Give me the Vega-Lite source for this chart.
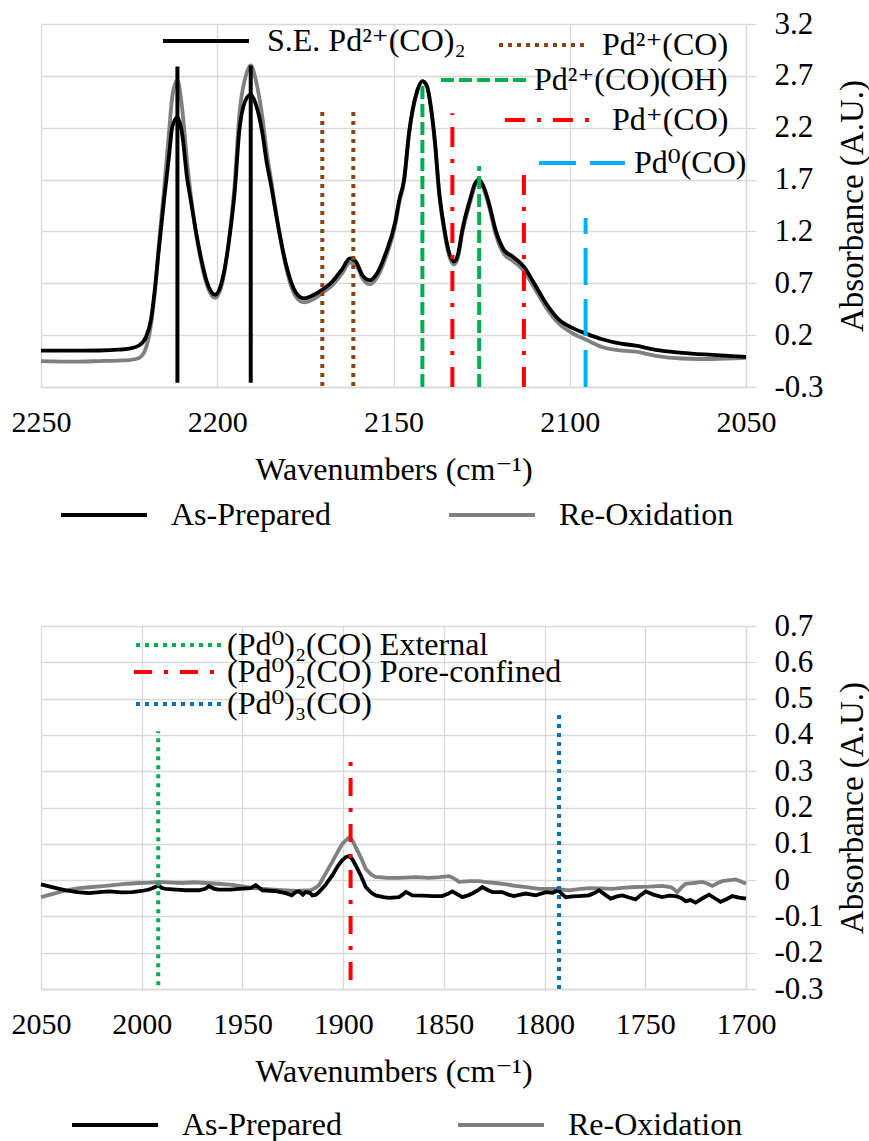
{
"$schema": "https://vega.github.io/schema/vega-lite/v6.json",
"padding": {"left": 11, "top": -4, "right": 0, "bottom": 0},
"background": "white",
"spacing": 69,
"config": {
  "font": "Liberation Serif, Times New Roman, DejaVu Serif, serif",
  "view": {"stroke": null},
  "axis": {"labelFont": "Liberation Serif, Times New Roman, DejaVu Serif, serif", "titleFont": "Liberation Serif, Times New Roman, DejaVu Serif, serif", "labelColor": "#000000", "titleColor": "#000000", "labelFontSize": 30, "titleFontSize": 32, "titleFontWeight": "normal", "gridColor": "#d9d9d9", "gridWidth": 1.3, "domainColor": "#d9d9d9", "domainWidth": 1.3, "tickColor": "#d9d9d9", "tickWidth": 1.3, "labelFlush": false, "labelOverlap": false},
  "legend": {"labelFont": "Liberation Serif, Times New Roman, DejaVu Serif, serif", "labelFontSize": 32, "labelColor": "#000000", "symbolType": "stroke", "symbolStrokeWidth": 4, "symbolSize": 7396, "labelLimit": 0, "padding": 0}
},
"datasets": {
  "topSpec": [
    {"s":"Re-Oxidation","wn":2250,"a":-0.05},{"s":"Re-Oxidation","wn":2240,"a":-0.055},{"s":"Re-Oxidation","wn":2233.5,"a":-0.05},{"s":"Re-Oxidation","wn":2228,"a":-0.045},{"s":"Re-Oxidation","wn":2225,"a":-0.04},{"s":"Re-Oxidation","wn":2222.2,"a":-0.02},{"s":"Re-Oxidation","wn":2220.2,"a":0.08},{"s":"Re-Oxidation","wn":2218.8,"a":0.3},{"s":"Re-Oxidation","wn":2217.7,"a":0.62},{"s":"Re-Oxidation","wn":2216.5,"a":1.1},{"s":"Re-Oxidation","wn":2215.1,"a":1.6},{"s":"Re-Oxidation","wn":2213.7,"a":2.15},{"s":"Re-Oxidation","wn":2212.75,"a":2.5},{"s":"Re-Oxidation","wn":2211.3,"a":2.66},{"s":"Re-Oxidation","wn":2210.0,"a":2.4},{"s":"Re-Oxidation","wn":2208.5,"a":1.85},{"s":"Re-Oxidation","wn":2207.5,"a":1.55},{"s":"Re-Oxidation","wn":2206.1,"a":1.2},{"s":"Re-Oxidation","wn":2204.7,"a":0.93},{"s":"Re-Oxidation","wn":2202.8,"a":0.67},{"s":"Re-Oxidation","wn":2200.6,"a":0.56},{"s":"Re-Oxidation","wn":2198.6,"a":0.7},{"s":"Re-Oxidation","wn":2196.5,"a":1.17},{"s":"Re-Oxidation","wn":2195.0,"a":1.68},{"s":"Re-Oxidation","wn":2193.8,"a":2.3},{"s":"Re-Oxidation","wn":2191.9,"a":2.7},{"s":"Re-Oxidation","wn":2190.5,"a":2.8},{"s":"Re-Oxidation","wn":2189.0,"a":2.65},{"s":"Re-Oxidation","wn":2187.2,"a":2.3},{"s":"Re-Oxidation","wn":2185.9,"a":1.95},{"s":"Re-Oxidation","wn":2184.75,"a":1.7},{"s":"Re-Oxidation","wn":2183.6,"a":1.45},{"s":"Re-Oxidation","wn":2182.5,"a":1.21},{"s":"Re-Oxidation","wn":2180.1,"a":0.8},{"s":"Re-Oxidation","wn":2177.7,"a":0.57},{"s":"Re-Oxidation","wn":2175.4,"a":0.515},{"s":"Re-Oxidation","wn":2172.55,"a":0.55},{"s":"Re-Oxidation","wn":2169.7,"a":0.62},{"s":"Re-Oxidation","wn":2167.4,"a":0.68},{"s":"Re-Oxidation","wn":2164.5,"a":0.8},{"s":"Re-Oxidation","wn":2162.4,"a":0.9},{"s":"Re-Oxidation","wn":2160.7,"a":0.88},{"s":"Re-Oxidation","wn":2158.85,"a":0.75},{"s":"Re-Oxidation","wn":2156.75,"a":0.69},{"s":"Re-Oxidation","wn":2154.6,"a":0.76},{"s":"Re-Oxidation","wn":2152.2,"a":0.95},{"s":"Re-Oxidation","wn":2149.4,"a":1.28},{"s":"Re-Oxidation","wn":2148.4,"a":1.47},{"s":"Re-Oxidation","wn":2147.0,"a":1.68},{"s":"Re-Oxidation","wn":2145.6,"a":2.13},{"s":"Re-Oxidation","wn":2143.25,"a":2.55},{"s":"Re-Oxidation","wn":2141.8,"a":2.65},{"s":"Re-Oxidation","wn":2140.5,"a":2.6},{"s":"Re-Oxidation","wn":2139.4,"a":2.4},{"s":"Re-Oxidation","wn":2138.2,"a":2.03},{"s":"Re-Oxidation","wn":2137.1,"a":1.58},{"s":"Re-Oxidation","wn":2135.7,"a":1.22},{"s":"Re-Oxidation","wn":2134.25,"a":0.97},{"s":"Re-Oxidation","wn":2132.8,"a":0.88},{"s":"Re-Oxidation","wn":2131.7,"a":0.95},{"s":"Re-Oxidation","wn":2130.5,"a":1.18},{"s":"Re-Oxidation","wn":2128.1,"a":1.5},{"s":"Re-Oxidation","wn":2126.9,"a":1.64},{"s":"Re-Oxidation","wn":2125.7,"a":1.68},{"s":"Re-Oxidation","wn":2124.3,"a":1.6},{"s":"Re-Oxidation","wn":2122.9,"a":1.44},{"s":"Re-Oxidation","wn":2121.0,"a":1.17},{"s":"Re-Oxidation","wn":2118.65,"a":0.98},{"s":"Re-Oxidation","wn":2116.3,"a":0.92},{"s":"Re-Oxidation","wn":2113.0,"a":0.82},{"s":"Re-Oxidation","wn":2110.1,"a":0.66},{"s":"Re-Oxidation","wn":2106.8,"a":0.47},{"s":"Re-Oxidation","wn":2103.05,"a":0.31},{"s":"Re-Oxidation","wn":2099.3,"a":0.22},{"s":"Re-Oxidation","wn":2095.0,"a":0.15},{"s":"Re-Oxidation","wn":2090.8,"a":0.085},{"s":"Re-Oxidation","wn":2085.1,"a":0.05},{"s":"Re-Oxidation","wn":2081.3,"a":0.04},{"s":"Re-Oxidation","wn":2075.6,"a":0.0},{"s":"Re-Oxidation","wn":2068.1,"a":-0.025},{"s":"Re-Oxidation","wn":2059.6,"a":-0.03},{"s":"Re-Oxidation","wn":2050,"a":-0.02},
    {"s":"As-Prepared","wn":2250,"a":0.05},{"s":"As-Prepared","wn":2240,"a":0.05},{"s":"As-Prepared","wn":2233.5,"a":0.052},{"s":"As-Prepared","wn":2228,"a":0.06},{"s":"As-Prepared","wn":2225,"a":0.07},{"s":"As-Prepared","wn":2222.2,"a":0.1},{"s":"As-Prepared","wn":2220.2,"a":0.185},{"s":"As-Prepared","wn":2218.8,"a":0.35},{"s":"As-Prepared","wn":2217.7,"a":0.64},{"s":"As-Prepared","wn":2216.5,"a":1.05},{"s":"As-Prepared","wn":2215.1,"a":1.5},{"s":"As-Prepared","wn":2213.7,"a":1.92},{"s":"As-Prepared","wn":2212.75,"a":2.21},{"s":"As-Prepared","wn":2211.3,"a":2.3},{"s":"As-Prepared","wn":2210.0,"a":2.15},{"s":"As-Prepared","wn":2208.5,"a":1.7},{"s":"As-Prepared","wn":2207.5,"a":1.5},{"s":"As-Prepared","wn":2206.1,"a":1.21},{"s":"As-Prepared","wn":2204.7,"a":0.96},{"s":"As-Prepared","wn":2202.8,"a":0.7},{"s":"As-Prepared","wn":2200.6,"a":0.59},{"s":"As-Prepared","wn":2198.6,"a":0.73},{"s":"As-Prepared","wn":2196.5,"a":1.15},{"s":"As-Prepared","wn":2195.0,"a":1.6},{"s":"As-Prepared","wn":2193.8,"a":2.15},{"s":"As-Prepared","wn":2191.9,"a":2.47},{"s":"As-Prepared","wn":2190.5,"a":2.52},{"s":"As-Prepared","wn":2189.0,"a":2.42},{"s":"As-Prepared","wn":2187.2,"a":2.15},{"s":"As-Prepared","wn":2185.9,"a":1.85},{"s":"As-Prepared","wn":2184.75,"a":1.65},{"s":"As-Prepared","wn":2183.6,"a":1.42},{"s":"As-Prepared","wn":2182.5,"a":1.21},{"s":"As-Prepared","wn":2180.1,"a":0.83},{"s":"As-Prepared","wn":2177.7,"a":0.61},{"s":"As-Prepared","wn":2175.4,"a":0.555},{"s":"As-Prepared","wn":2172.55,"a":0.59},{"s":"As-Prepared","wn":2169.7,"a":0.65},{"s":"As-Prepared","wn":2167.4,"a":0.715},{"s":"As-Prepared","wn":2164.5,"a":0.84},{"s":"As-Prepared","wn":2162.4,"a":0.94},{"s":"As-Prepared","wn":2160.7,"a":0.91},{"s":"As-Prepared","wn":2158.85,"a":0.78},{"s":"As-Prepared","wn":2156.75,"a":0.73},{"s":"As-Prepared","wn":2154.6,"a":0.8},{"s":"As-Prepared","wn":2152.2,"a":0.99},{"s":"As-Prepared","wn":2149.4,"a":1.31},{"s":"As-Prepared","wn":2148.4,"a":1.5},{"s":"As-Prepared","wn":2147.0,"a":1.7},{"s":"As-Prepared","wn":2145.6,"a":2.15},{"s":"As-Prepared","wn":2143.25,"a":2.56},{"s":"As-Prepared","wn":2141.8,"a":2.65},{"s":"As-Prepared","wn":2140.5,"a":2.6},{"s":"As-Prepared","wn":2139.4,"a":2.4},{"s":"As-Prepared","wn":2138.2,"a":2.05},{"s":"As-Prepared","wn":2137.1,"a":1.6},{"s":"As-Prepared","wn":2135.7,"a":1.25},{"s":"As-Prepared","wn":2134.25,"a":1.0},{"s":"As-Prepared","wn":2132.8,"a":0.91},{"s":"As-Prepared","wn":2131.7,"a":0.98},{"s":"As-Prepared","wn":2130.5,"a":1.21},{"s":"As-Prepared","wn":2128.1,"a":1.53},{"s":"As-Prepared","wn":2126.9,"a":1.66},{"s":"As-Prepared","wn":2125.7,"a":1.7},{"s":"As-Prepared","wn":2124.3,"a":1.62},{"s":"As-Prepared","wn":2122.9,"a":1.47},{"s":"As-Prepared","wn":2121.0,"a":1.21},{"s":"As-Prepared","wn":2118.65,"a":1.02},{"s":"As-Prepared","wn":2116.3,"a":0.96},{"s":"As-Prepared","wn":2113.0,"a":0.86},{"s":"As-Prepared","wn":2110.1,"a":0.7},{"s":"As-Prepared","wn":2106.8,"a":0.51},{"s":"As-Prepared","wn":2103.05,"a":0.35},{"s":"As-Prepared","wn":2099.3,"a":0.27},{"s":"As-Prepared","wn":2095.0,"a":0.21},{"s":"As-Prepared","wn":2090.8,"a":0.16},{"s":"As-Prepared","wn":2085.1,"a":0.115},{"s":"As-Prepared","wn":2081.3,"a":0.1},{"s":"As-Prepared","wn":2075.6,"a":0.057},{"s":"As-Prepared","wn":2068.1,"a":0.03},{"s":"As-Prepared","wn":2059.6,"a":0.01},{"s":"As-Prepared","wn":2050,"a":-0.01}
  ],
  "topRefs": [
    {"k":"se","lab":"S.E. Pd²⁺(CO)₂","wn":2211.3,"y0":-0.26,"y1":2.79},
    {"k":"se","lab":"S.E. Pd²⁺(CO)₂","wn":2190.5,"y0":-0.26,"y1":2.8},
    {"k":"p2","lab":"Pd²⁺(CO)","wn":2170.2,"y0":-0.29,"y1":2.355},
    {"k":"p2","lab":"Pd²⁺(CO)","wn":2161.4,"y0":-0.29,"y1":2.355},
    {"k":"oh","lab":"Pd²⁺(CO)(OH)","wn":2141.8,"y0":-0.3,"y1":2.63},
    {"k":"oh","lab":"Pd²⁺(CO)(OH)","wn":2125.7,"y0":-0.3,"y1":1.83},
    {"k":"p1","lab":"Pd⁺(CO)","wn":2133.3,"y0":-0.3,"y1":2.34},
    {"k":"p1","lab":"Pd⁺(CO)","wn":2113.0,"y0":-0.3,"y1":1.81},
    {"k":"p0","lab":"Pd⁰(CO)","wn":2095.5,"y0":-0.3,"y1":1.33}
  ],
  "botSpec": [
    {"s":"Re-Oxidation","wn":2050,"a":-0.047},{"s":"Re-Oxidation","wn":2044,"a":-0.038},{"s":"Re-Oxidation","wn":2037.7,"a":-0.028},{"s":"Re-Oxidation","wn":2031,"a":-0.022},{"s":"Re-Oxidation","wn":2024.5,"a":-0.019},{"s":"Re-Oxidation","wn":2018,"a":-0.016},{"s":"Re-Oxidation","wn":2012.9,"a":-0.013},{"s":"Re-Oxidation","wn":2007,"a":-0.01},{"s":"Re-Oxidation","wn":2001.35,"a":-0.008},{"s":"Re-Oxidation","wn":1996,"a":-0.007},{"s":"Re-Oxidation","wn":1991.4,"a":-0.005},{"s":"Re-Oxidation","wn":1985,"a":-0.007},{"s":"Re-Oxidation","wn":1979.85,"a":-0.008},{"s":"Re-Oxidation","wn":1974,"a":-0.006},{"s":"Re-Oxidation","wn":1968.2,"a":-0.008},{"s":"Re-Oxidation","wn":1962,"a":-0.01},{"s":"Re-Oxidation","wn":1955,"a":-0.013},{"s":"Re-Oxidation","wn":1950,"a":-0.017},{"s":"Re-Oxidation","wn":1945.1,"a":-0.022},{"s":"Re-Oxidation","wn":1938,"a":-0.025},{"s":"Re-Oxidation","wn":1930.2,"a":-0.028},{"s":"Re-Oxidation","wn":1923,"a":-0.03},{"s":"Re-Oxidation","wn":1916.1,"a":-0.028},{"s":"Re-Oxidation","wn":1914,"a":-0.022},{"s":"Re-Oxidation","wn":1912,"a":-0.014},{"s":"Re-Oxidation","wn":1909,"a":0.015},{"s":"Re-Oxidation","wn":1905.4,"a":0.05},{"s":"Re-Oxidation","wn":1902.5,"a":0.08},{"s":"Re-Oxidation","wn":1900.4,"a":0.1},{"s":"Re-Oxidation","wn":1897.4,"a":0.116},{"s":"Re-Oxidation","wn":1895.5,"a":0.11},{"s":"Re-Oxidation","wn":1893.8,"a":0.091},{"s":"Re-Oxidation","wn":1891,"a":0.06},{"s":"Re-Oxidation","wn":1888.8,"a":0.031},{"s":"Re-Oxidation","wn":1886,"a":0.015},{"s":"Re-Oxidation","wn":1883.8,"a":0.009},{"s":"Re-Oxidation","wn":1878,"a":0.006},{"s":"Re-Oxidation","wn":1872.3,"a":0.006},{"s":"Re-Oxidation","wn":1864,"a":0.008},{"s":"Re-Oxidation","wn":1857.4,"a":0.006},{"s":"Re-Oxidation","wn":1852,"a":0.008},{"s":"Re-Oxidation","wn":1847.45,"a":0.011},{"s":"Re-Oxidation","wn":1845,"a":0.005},{"s":"Re-Oxidation","wn":1842.5,"a":-0.005},{"s":"Re-Oxidation","wn":1837,"a":-0.003},{"s":"Re-Oxidation","wn":1832.55,"a":-0.003},{"s":"Re-Oxidation","wn":1828,"a":-0.006},{"s":"Re-Oxidation","wn":1824.3,"a":-0.008},{"s":"Re-Oxidation","wn":1819,"a":-0.012},{"s":"Re-Oxidation","wn":1814.4,"a":-0.016},{"s":"Re-Oxidation","wn":1808,"a":-0.02},{"s":"Re-Oxidation","wn":1802.8,"a":-0.024},{"s":"Re-Oxidation","wn":1798,"a":-0.024},{"s":"Re-Oxidation","wn":1793.7,"a":-0.024},{"s":"Re-Oxidation","wn":1790,"a":-0.027},{"s":"Re-Oxidation","wn":1787.9,"a":-0.028},{"s":"Re-Oxidation","wn":1783,"a":-0.025},{"s":"Re-Oxidation","wn":1777.95,"a":-0.022},{"s":"Re-Oxidation","wn":1772,"a":-0.023},{"s":"Re-Oxidation","wn":1766.4,"a":-0.024},{"s":"Re-Oxidation","wn":1760,"a":-0.021},{"s":"Re-Oxidation","wn":1754.8,"a":-0.019},{"s":"Re-Oxidation","wn":1748,"a":-0.018},{"s":"Re-Oxidation","wn":1741.6,"a":-0.016},{"s":"Re-Oxidation","wn":1737,"a":-0.02},{"s":"Re-Oxidation","wn":1734.1,"a":-0.033},{"s":"Re-Oxidation","wn":1732,"a":-0.02},{"s":"Re-Oxidation","wn":1730,"a":-0.01},{"s":"Re-Oxidation","wn":1726,"a":-0.008},{"s":"Re-Oxidation","wn":1721.7,"a":-0.005},{"s":"Re-Oxidation","wn":1719,"a":-0.01},{"s":"Re-Oxidation","wn":1716.7,"a":-0.016},{"s":"Re-Oxidation","wn":1714,"a":-0.008},{"s":"Re-Oxidation","wn":1711.8,"a":-0.003},{"s":"Re-Oxidation","wn":1708,"a":0.0},{"s":"Re-Oxidation","wn":1705.1,"a":0.002},{"s":"Re-Oxidation","wn":1702.5,"a":-0.004},{"s":"Re-Oxidation","wn":1700,"a":-0.01},
    {"s":"As-Prepared","wn":2050,"a":-0.012},{"s":"As-Prepared","wn":2044,"a":-0.02},{"s":"As-Prepared","wn":2037.7,"a":-0.028},{"s":"As-Prepared","wn":2032,"a":-0.033},{"s":"As-Prepared","wn":2026.2,"a":-0.036},{"s":"As-Prepared","wn":2021,"a":-0.033},{"s":"As-Prepared","wn":2016.2,"a":-0.031},{"s":"As-Prepared","wn":2010,"a":-0.034},{"s":"As-Prepared","wn":2004.7,"a":-0.033},{"s":"As-Prepared","wn":2000,"a":-0.03},{"s":"As-Prepared","wn":1996.4,"a":-0.026},{"s":"As-Prepared","wn":1993.5,"a":-0.02},{"s":"As-Prepared","wn":1991.8,"a":-0.014},{"s":"As-Prepared","wn":1990,"a":-0.022},{"s":"As-Prepared","wn":1988.1,"a":-0.024},{"s":"As-Prepared","wn":1983,"a":-0.026},{"s":"As-Prepared","wn":1978.2,"a":-0.028},{"s":"As-Prepared","wn":1971.6,"a":-0.028},{"s":"As-Prepared","wn":1968.5,"a":-0.024},{"s":"As-Prepared","wn":1966.6,"a":-0.017},{"s":"As-Prepared","wn":1964,"a":-0.024},{"s":"As-Prepared","wn":1961.6,"a":-0.026},{"s":"As-Prepared","wn":1956,"a":-0.026},{"s":"As-Prepared","wn":1951.7,"a":-0.024},{"s":"As-Prepared","wn":1946,"a":-0.022},{"s":"As-Prepared","wn":1943.4,"a":-0.014},{"s":"As-Prepared","wn":1941.5,"a":-0.022},{"s":"As-Prepared","wn":1940.1,"a":-0.028},{"s":"As-Prepared","wn":1934,"a":-0.03},{"s":"As-Prepared","wn":1928.5,"a":-0.036},{"s":"As-Prepared","wn":1925.5,"a":-0.042},{"s":"As-Prepared","wn":1923.5,"a":-0.033},{"s":"As-Prepared","wn":1921.9,"a":-0.031},{"s":"As-Prepared","wn":1920,"a":-0.04},{"s":"As-Prepared","wn":1918.6,"a":-0.033},{"s":"As-Prepared","wn":1916.5,"a":-0.035},{"s":"As-Prepared","wn":1915.3,"a":-0.042},{"s":"As-Prepared","wn":1913.5,"a":-0.04},{"s":"As-Prepared","wn":1912,"a":-0.033},{"s":"As-Prepared","wn":1909,"a":-0.015},{"s":"As-Prepared","wn":1905.4,"a":0.013},{"s":"As-Prepared","wn":1902.5,"a":0.04},{"s":"As-Prepared","wn":1900.4,"a":0.055},{"s":"As-Prepared","wn":1898.5,"a":0.064},{"s":"As-Prepared","wn":1897.1,"a":0.066},{"s":"As-Prepared","wn":1895.5,"a":0.058},{"s":"As-Prepared","wn":1893.8,"a":0.041},{"s":"As-Prepared","wn":1891,"a":0.01},{"s":"As-Prepared","wn":1888.8,"a":-0.019},{"s":"As-Prepared","wn":1886,"a":-0.035},{"s":"As-Prepared","wn":1883.8,"a":-0.042},{"s":"As-Prepared","wn":1880,"a":-0.047},{"s":"As-Prepared","wn":1877.2,"a":-0.049},{"s":"As-Prepared","wn":1872.3,"a":-0.047},{"s":"As-Prepared","wn":1870.5,"a":-0.04},{"s":"As-Prepared","wn":1868.9,"a":-0.033},{"s":"As-Prepared","wn":1867,"a":-0.038},{"s":"As-Prepared","wn":1865.7,"a":-0.042},{"s":"As-Prepared","wn":1860,"a":-0.043},{"s":"As-Prepared","wn":1855.7,"a":-0.044},{"s":"As-Prepared","wn":1850.8,"a":-0.044},{"s":"As-Prepared","wn":1848,"a":-0.038},{"s":"As-Prepared","wn":1845.8,"a":-0.031},{"s":"As-Prepared","wn":1843,"a":-0.04},{"s":"As-Prepared","wn":1840.8,"a":-0.047},{"s":"As-Prepared","wn":1838,"a":-0.042},{"s":"As-Prepared","wn":1835.9,"a":-0.037},{"s":"As-Prepared","wn":1833,"a":-0.028},{"s":"As-Prepared","wn":1830.9,"a":-0.019},{"s":"As-Prepared","wn":1828,"a":-0.028},{"s":"As-Prepared","wn":1825.95,"a":-0.033},{"s":"As-Prepared","wn":1821,"a":-0.033},{"s":"As-Prepared","wn":1818,"a":-0.04},{"s":"As-Prepared","wn":1815.2,"a":-0.044},{"s":"As-Prepared","wn":1812,"a":-0.04},{"s":"As-Prepared","wn":1809.4,"a":-0.037},{"s":"As-Prepared","wn":1804.4,"a":-0.042},{"s":"As-Prepared","wn":1799.45,"a":-0.033},{"s":"As-Prepared","wn":1796,"a":-0.035},{"s":"As-Prepared","wn":1793.2,"a":-0.028},{"s":"As-Prepared","wn":1791,"a":-0.04},{"s":"As-Prepared","wn":1789.5,"a":-0.047},{"s":"As-Prepared","wn":1786,"a":-0.045},{"s":"As-Prepared","wn":1782.9,"a":-0.044},{"s":"As-Prepared","wn":1777.95,"a":-0.042},{"s":"As-Prepared","wn":1775,"a":-0.035},{"s":"As-Prepared","wn":1773,"a":-0.028},{"s":"As-Prepared","wn":1770,"a":-0.04},{"s":"As-Prepared","wn":1767.2,"a":-0.051},{"s":"As-Prepared","wn":1764,"a":-0.045},{"s":"As-Prepared","wn":1761.4,"a":-0.042},{"s":"As-Prepared","wn":1758,"a":-0.048},{"s":"As-Prepared","wn":1754.8,"a":-0.053},{"s":"As-Prepared","wn":1752,"a":-0.04},{"s":"As-Prepared","wn":1749.8,"a":-0.031},{"s":"As-Prepared","wn":1746,"a":-0.04},{"s":"As-Prepared","wn":1741.6,"a":-0.047},{"s":"As-Prepared","wn":1738,"a":-0.043},{"s":"As-Prepared","wn":1734.9,"a":-0.044},{"s":"As-Prepared","wn":1732,"a":-0.05},{"s":"As-Prepared","wn":1730,"a":-0.058},{"s":"As-Prepared","wn":1727.5,"a":-0.055},{"s":"As-Prepared","wn":1725,"a":-0.062},{"s":"As-Prepared","wn":1721.5,"a":-0.05},{"s":"As-Prepared","wn":1718.4,"a":-0.04},{"s":"As-Prepared","wn":1715.5,"a":-0.05},{"s":"As-Prepared","wn":1712.6,"a":-0.06},{"s":"As-Prepared","wn":1709.5,"a":-0.052},{"s":"As-Prepared","wn":1706.8,"a":-0.044},{"s":"As-Prepared","wn":1703.5,"a":-0.048},{"s":"As-Prepared","wn":1700,"a":-0.051}
  ],
  "botRefs": [
    {"k":"ext","lab":"(Pd⁰)₂(CO) External","wn":1991.8,"y0":-0.29,"y1":0.41},
    {"k":"pore","lab":"(Pd⁰)₂(CO) Pore-confined","wn":1896.3,"y0":-0.275,"y1":0.34},
    {"k":"tri","lab":"(Pd⁰)₃(CO)","wn":1792.8,"y0":-0.3,"y1":0.468}
  ]
},
"vconcat": [
  {
    "width": 705, "height": 363,
    "resolve": {"scale": {"color": "independent", "strokeDash": "independent"}},
    "layer": [
      {
        "data": {"name": "topSpec"},
        "mark": {"type": "line", "strokeWidth": 3.8, "interpolate": "monotone"},
        "encoding": {
          "x": {"field": "wn", "type": "quantitative", "scale": {"domain": [2050, 2250], "reverse": true, "nice": false, "zero": false}, "axis": {"values": [2250, 2200, 2150, 2100, 2050], "tickCount": 30, "format": "d", "title": "Wavenumbers (cm⁻¹)", "ticks": false, "tickSize": 0, "labelPadding": 20, "titlePadding": 17, "grid": true, "labelFlush": false}},
          "y": {"field": "a", "type": "quantitative", "scale": {"domain": [-0.3, 3.2], "nice": false, "zero": false}, "axis": {"orient": "right", "values": [-0.3, 0.2, 0.7, 1.2, 1.7, 2.2, 2.7, 3.2], "tickCount": 30, "labelExpr": "replace(format(datum.value, '.1f'), '−', '-')", "labelFontSize": 31, "labelOverlap": false, "title": "Absorbance (A.U.)", "titleFontSize": 33, "tickSize": 10, "labelPadding": 18, "titleAngle": 270, "titleBaseline": "top", "titlePadding": 13, "grid": true}},
          "color": {"field": "s", "type": "nominal", "scale": {"domain": ["As-Prepared", "Re-Oxidation"], "range": ["#000000", "#808080"]}, "legend": {"title": null, "orient": "none", "legendX": 18, "legendY": 446, "direction": "horizontal", "columnPadding": 110, "labelOffset": 22}}
        }
      },
      {
        "data": {"name": "topRefs"}, "transform": [{"filter": "datum.k == 'se'"}],
        "mark": {"type": "rule", "strokeWidth": 4},
        "encoding": {
          "x": {"field": "wn", "type": "quantitative", "scale": {"domain": [2050, 2250], "reverse": true, "nice": false, "zero": false}},
          "y": {"field": "y0", "type": "quantitative", "scale": {"domain": [-0.3, 3.2], "nice": false, "zero": false}},
          "y2": {"field": "y1"},
          "color": {"field": "lab", "type": "nominal", "scale": {"range": ["#000000"]}, "legend": {"title": null, "orient": "none", "legendX": 120, "legendY": -28, "labelOffset": 16}},
          "strokeDash": {"field": "lab", "type": "nominal", "scale": {"range": [[1, 0]]}, "legend": {"title": null, "orient": "none", "legendX": 120, "legendY": -28, "labelOffset": 16}}
        }
      },
      {
        "data": {"name": "topRefs"}, "transform": [{"filter": "datum.k == 'p2'"}],
        "mark": {"type": "rule", "strokeWidth": 4},
        "encoding": {
          "x": {"field": "wn", "type": "quantitative", "scale": {"domain": [2050, 2250], "reverse": true, "nice": false, "zero": false}},
          "y": {"field": "y0", "type": "quantitative", "scale": {"domain": [-0.3, 3.2], "nice": false, "zero": false}},
          "y2": {"field": "y1"},
          "color": {"field": "lab", "type": "nominal", "scale": {"range": ["#8B4513"]}, "legend": {"title": null, "orient": "none", "legendX": 456, "legendY": -24, "labelOffset": 15}},
          "strokeDash": {"field": "lab", "type": "nominal", "scale": {"range": [[4, 5]]}, "legend": {"title": null, "orient": "none", "legendX": 456, "legendY": -24, "labelOffset": 15}}
        }
      },
      {
        "data": {"name": "topRefs"}, "transform": [{"filter": "datum.k == 'oh'"}],
        "mark": {"type": "rule", "strokeWidth": 4},
        "encoding": {
          "x": {"field": "wn", "type": "quantitative", "scale": {"domain": [2050, 2250], "reverse": true, "nice": false, "zero": false}},
          "y": {"field": "y0", "type": "quantitative", "scale": {"domain": [-0.3, 3.2], "nice": false, "zero": false}},
          "y2": {"field": "y1"},
          "color": {"field": "lab", "type": "nominal", "scale": {"range": ["#00B050"]}, "legend": {"title": null, "orient": "none", "legendX": 398, "legendY": 11, "labelOffset": 5}},
          "strokeDash": {"field": "lab", "type": "nominal", "scale": {"range": [[13, 5]]}, "legend": {"title": null, "orient": "none", "legendX": 398, "legendY": 11, "labelOffset": 5}}
        }
      },
      {
        "data": {"name": "topRefs"}, "transform": [{"filter": "datum.k == 'p1'"}],
        "mark": {"type": "rule", "strokeWidth": 4},
        "encoding": {
          "x": {"field": "wn", "type": "quantitative", "scale": {"domain": [2050, 2250], "reverse": true, "nice": false, "zero": false}},
          "y": {"field": "y0", "type": "quantitative", "scale": {"domain": [-0.3, 3.2], "nice": false, "zero": false}},
          "y2": {"field": "y1"},
          "color": {"field": "lab", "type": "nominal", "scale": {"range": ["#FF0000"]}, "legend": {"title": null, "orient": "none", "legendX": 462, "legendY": 51, "labelOffset": 19}},
          "strokeDash": {"field": "lab", "type": "nominal", "scale": {"range": [[20, 12, 4, 12]]}, "legend": {"title": null, "orient": "none", "legendX": 462, "legendY": 51, "labelOffset": 19}}
        }
      },
      {
        "data": {"name": "topRefs"}, "transform": [{"filter": "datum.k == 'p0'"}],
        "mark": {"type": "rule", "strokeWidth": 4},
        "encoding": {
          "x": {"field": "wn", "type": "quantitative", "scale": {"domain": [2050, 2250], "reverse": true, "nice": false, "zero": false}},
          "y": {"field": "y0", "type": "quantitative", "scale": {"domain": [-0.3, 3.2], "nice": false, "zero": false}},
          "y2": {"field": "y1"},
          "color": {"field": "lab", "type": "nominal", "scale": {"range": ["#00B0F0"]}, "legend": {"title": null, "orient": "none", "legendX": 496, "legendY": 94, "labelOffset": 7}},
          "strokeDash": {"field": "lab", "type": "nominal", "scale": {"range": [[37, 14]]}, "legend": {"title": null, "orient": "none", "legendX": 496, "legendY": 94, "labelOffset": 7}}
        }
      }
    ]
  },
  {
    "width": 705, "height": 363,
    "resolve": {"scale": {"color": "independent", "strokeDash": "independent"}},
    "layer": [
      {
        "data": {"name": "botSpec"},
        "mark": {"type": "line", "strokeWidth": 3.8},
        "encoding": {
          "x": {"field": "wn", "type": "quantitative", "scale": {"domain": [1700, 2050], "reverse": true, "nice": false, "zero": false}, "axis": {"values": [2050, 2000, 1950, 1900, 1850, 1800, 1750, 1700], "tickCount": 30, "format": "d", "title": "Wavenumbers (cm⁻¹)", "ticks": false, "tickSize": 0, "labelPadding": 20, "titlePadding": 17, "grid": true, "labelFlush": false}},
          "y": {"field": "a", "type": "quantitative", "scale": {"domain": [-0.3, 0.7], "nice": false, "zero": false}, "axis": {"orient": "right", "values": [-0.3, -0.2, -0.1, 0, 0.1, 0.2, 0.3, 0.4, 0.5, 0.6, 0.7], "tickCount": 30, "labelExpr": "datum.value == 0 ? '0' : replace(format(datum.value, '.1f'), '−', '-')", "labelFontSize": 31, "labelOverlap": false, "title": "Absorbance (A.U.)", "titleFontSize": 33, "tickSize": 10, "labelPadding": 18, "titleAngle": 270, "titleBaseline": "top", "titlePadding": 13, "grid": true}},
          "color": {"field": "s", "type": "nominal", "scale": {"domain": ["As-Prepared", "Re-Oxidation"], "range": ["#000000", "#808080"]}, "legend": {"title": null, "orient": "none", "legendX": 29, "legendY": 454, "direction": "horizontal", "columnPadding": 108, "labelOffset": 22}}
        }
      },
      {
        "data": {"name": "botRefs"}, "transform": [{"filter": "datum.k == 'ext'"}],
        "mark": {"type": "rule", "strokeWidth": 4},
        "encoding": {
          "x": {"field": "wn", "type": "quantitative", "scale": {"domain": [1700, 2050], "reverse": true, "nice": false, "zero": false}},
          "y": {"field": "y0", "type": "quantitative", "scale": {"domain": [-0.3, 0.7], "nice": false, "zero": false}},
          "y2": {"field": "y1"},
          "color": {"field": "lab", "type": "nominal", "scale": {"range": ["#00B050"]}, "legend": {"title": null, "orient": "none", "legendX": 93, "legendY": -26, "labelOffset": 3}},
          "strokeDash": {"field": "lab", "type": "nominal", "scale": {"range": [[4, 5]]}, "legend": {"title": null, "orient": "none", "legendX": 93, "legendY": -26, "labelOffset": 3}}
        }
      },
      {
        "data": {"name": "botRefs"}, "transform": [{"filter": "datum.k == 'pore'"}],
        "mark": {"type": "rule", "strokeWidth": 4},
        "encoding": {
          "x": {"field": "wn", "type": "quantitative", "scale": {"domain": [1700, 2050], "reverse": true, "nice": false, "zero": false}},
          "y": {"field": "y0", "type": "quantitative", "scale": {"domain": [-0.3, 0.7], "nice": false, "zero": false}},
          "y2": {"field": "y1"},
          "color": {"field": "lab", "type": "nominal", "scale": {"range": ["#FF0000"]}, "legend": {"title": null, "orient": "none", "legendX": 91, "legendY": 1, "labelOffset": 5}},
          "strokeDash": {"field": "lab", "type": "nominal", "scale": {"range": [[18, 12, 4, 12]]}, "legend": {"title": null, "orient": "none", "legendX": 91, "legendY": 1, "labelOffset": 5}}
        }
      },
      {
        "data": {"name": "botRefs"}, "transform": [{"filter": "datum.k == 'tri'"}],
        "mark": {"type": "rule", "strokeWidth": 4},
        "encoding": {
          "x": {"field": "wn", "type": "quantitative", "scale": {"domain": [1700, 2050], "reverse": true, "nice": false, "zero": false}},
          "y": {"field": "y0", "type": "quantitative", "scale": {"domain": [-0.3, 0.7], "nice": false, "zero": false}},
          "y2": {"field": "y1"},
          "color": {"field": "lab", "type": "nominal", "scale": {"range": ["#0070C0"]}, "legend": {"title": null, "orient": "none", "legendX": 93, "legendY": 33, "labelOffset": 3}},
          "strokeDash": {"field": "lab", "type": "nominal", "scale": {"range": [[4, 5]]}, "legend": {"title": null, "orient": "none", "legendX": 93, "legendY": 33, "labelOffset": 3}}
        }
      }
    ]
  }
]
}
